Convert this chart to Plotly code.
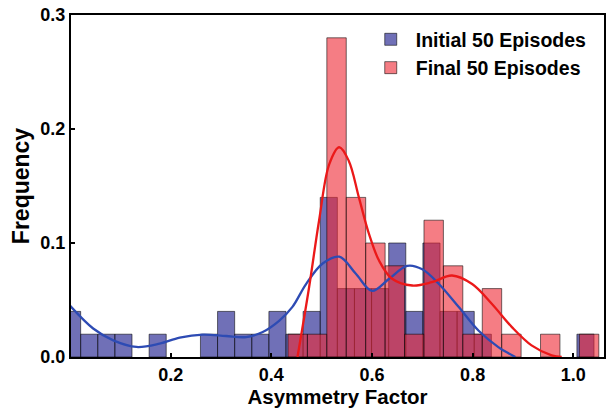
import plotly.graph_objects as go

# ---- data ----
blue_bin_start = -0.0128
blue_bin_width = 0.0340
blue_freq = [0.04, 0.02, 0.02, 0.02, 0.00, 0.02, 0.00, 0.00, 0.02, 0.04,
             0.02, 0.02, 0.04, 0.02, 0.04, 0.14, 0.06, 0.06, 0.06, 0.10,
             0.04, 0.10, 0.04, 0.04, 0.02, 0.00, 0.00, 0.00, 0.00, 0.00, 0.02]

red_bin_start = 0.4331
red_bin_width = 0.0386
red_freq = [0.02, 0.02, 0.28, 0.14, 0.10, 0.08, 0.02, 0.12, 0.08, 0.02,
            0.06, 0.02, 0.00, 0.02, 0.00, 0.02]

blue_kde_x = [0.0, 0.046, 0.086, 0.132, 0.178, 0.218, 0.264, 0.310, 0.350, 0.383,
              0.416, 0.442, 0.469, 0.502, 0.535, 0.568, 0.600, 0.634, 0.670, 0.700,
              0.733, 0.772, 0.812, 0.851, 0.885]
blue_kde_y = [0.045, 0.025, 0.0146, 0.0088, 0.0117, 0.017, 0.0196, 0.0184, 0.0175, 0.022,
              0.032, 0.044, 0.064, 0.082, 0.088, 0.073, 0.058, 0.0686, 0.080, 0.077,
              0.064, 0.044, 0.023, 0.0087, 0.0]

red_kde_x = [0.452, 0.475, 0.495, 0.515, 0.535, 0.554, 0.574, 0.594, 0.614, 0.640,
             0.680, 0.719, 0.759, 0.799, 0.838, 0.878, 0.917, 0.957, 0.977]
red_kde_y = [0.0, 0.061, 0.12, 0.169, 0.184, 0.172, 0.14, 0.108, 0.0846, 0.0686,
             0.0627, 0.0656, 0.0715, 0.064, 0.0467, 0.0262, 0.0102, 0.0015, 0.0]

x_ticks = [0.2, 0.4, 0.6, 0.8, 1.0]
y_ticks = [0.0, 0.1, 0.2, 0.3]

labels = ["Initial 50 Episodes", "Final 50 Episodes"]


def bars(start, width, freq):
    xs, ys = [], []
    for i, f in enumerate(freq):
        if f > 0:
            xs.append(start + width * (i + 0.5))
            ys.append(f)
    return xs, ys


FONT = "Liberation Sans, Arial, sans-serif"
edge = dict(color="rgba(0,0,0,0.55)", width=1)

fig = go.Figure()
bx, by = bars(blue_bin_start, blue_bin_width, blue_freq)
fig.add_trace(go.Bar(x=bx, y=by, width=blue_bin_width, name=labels[0],
                     marker=dict(color="rgba(51,51,153,0.7)", line=edge)))
rx, ry = bars(red_bin_start, red_bin_width, red_freq)
fig.add_trace(go.Bar(x=rx, y=ry, width=red_bin_width, name=labels[1],
                     marker=dict(color="rgba(238,38,50,0.6)", line=edge)))
fig.add_trace(go.Scatter(x=blue_kde_x, y=blue_kde_y, mode="lines", showlegend=False,
                         line=dict(color="rgb(45,75,180)", width=2.3, shape="spline")))
fig.add_trace(go.Scatter(x=red_kde_x, y=red_kde_y, mode="lines", showlegend=False,
                         line=dict(color="rgb(235,25,25)", width=2.3, shape="spline")))

axis_common = dict(showline=True, linecolor="black", linewidth=2, mirror=True,
                   ticks="inside", ticklen=4, tickwidth=1.5, tickcolor="black",
                   showgrid=False, zeroline=False,
                   tickfont=dict(family=FONT, size=18, color="black", weight="bold"))

fig.update_layout(
    width=611, height=408,
    margin=dict(l=71, r=5, t=14, b=51),
    barmode="overlay",
    plot_bgcolor="white", paper_bgcolor="white",
    showlegend=True,
    legend=dict(x=0.553, y=0.985, xanchor="left", yanchor="top",
                bgcolor="rgba(0,0,0,0)", borderwidth=0,
                font=dict(family=FONT, size=19.5, color="black", weight="bold"),
                itemwidth=40),
    xaxis=dict(range=[0.002, 1.061], tickvals=x_ticks,
               ticktext=[f"{v:.1f}" for v in x_ticks],
               title=dict(text="Asymmetry Factor", standoff=2,
                          font=dict(family=FONT, size=20.5, color="black", weight="bold")),
               **axis_common),
    yaxis=dict(range=[0, 0.3], tickvals=y_ticks,
               ticktext=[f"{v:.1f}" for v in y_ticks],
               title=dict(text="Frequency", standoff=4,
                          font=dict(family=FONT, size=23, color="black", weight="bold")),
               **axis_common),
)

fig.write_html("out.html")
